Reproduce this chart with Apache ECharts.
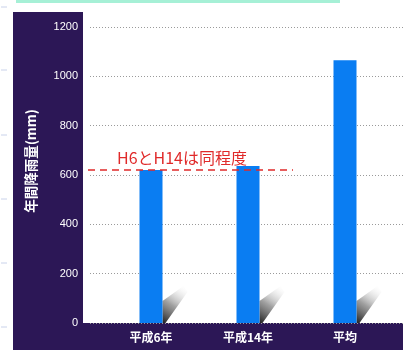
<!DOCTYPE html>
<html>
<head>
<meta charset="utf-8">
<script src="https://cdn.jsdelivr.net/npm/echarts@6/dist/echarts.min.js"></script>
<style>
  html, body { margin: 0; padding: 0; background: #ffffff; }
  #chart { width: 403px; height: 350px; }
</style>
</head>
<body>
<div id="chart"></div>
<script>
// Annual rainfall (mm)
const categories = ['平成6年', '平成14年', '平均'];
const rainfall = [620, 636, 1065];
const yTicks = { min: 0, max: 1200, interval: 200 };
const yAxisTitle = '年間降雨量(mm)';
const noteText = 'H6とH14は同程度';
const noteLevel = 620;

const PANEL = '#2c1756';
const BAR = '#0a7df2';
const RED = '#e02a2a';

const chart = echarts.init(document.getElementById('chart'), null, { renderer: 'canvas' });

// Static frame: dark side panel, bottom strip, top accent, margin ticks
const frame = [
  { type: 'rect', shape: { x: 16, y: 0, width: 324, height: 3 }, style: { fill: '#a6f0d6' }, z: 0 },
  { type: 'rect', shape: { x: 13, y: 12, width: 70, height: 338 }, style: { fill: PANEL }, z: 0 },
  { type: 'rect', shape: { x: 13, y: 323, width: 390, height: 27 }, style: { fill: PANEL }, z: 0 }
];
[7, 70, 135, 199, 263, 327].forEach(function (y) {
  frame.push({ type: 'line', shape: { x1: 1, y1: y, x2: 7, y2: y }, style: { stroke: '#c9d2ea', lineWidth: 1 }, z: 0 });
});

const option = {
  animation: false,
  backgroundColor: '#ffffff',
  textStyle: { fontFamily: '"Noto Sans CJK JP", "Liberation Sans", sans-serif' },
  grid: [
    { left: 90, right: 0, top: 27, bottom: 27 },
    { left: 102.5, right: 9.5, top: 27, bottom: 27 }
  ],
  xAxis: [
    { type: 'value', gridIndex: 0, show: false, min: 0, max: 1 },
    {
      type: 'category', gridIndex: 1, data: categories,
      axisLine: { show: false }, axisTick: { show: false },
      axisLabel: { color: '#ffffff', fontSize: 12, fontWeight: 'bold', margin: 8,
                   fontFamily: '"Noto Sans CJK JP", sans-serif' }
    }
  ],
  yAxis: [
    {
      type: 'value', gridIndex: 0, min: yTicks.min, max: yTicks.max, interval: yTicks.interval,
      axisLine: { show: false }, axisTick: { show: false },
      axisLabel: { color: '#ffffff', fontSize: 11, margin: 12,
                   fontFamily: '"Liberation Sans", Arial, sans-serif',
                   formatter: function (v) { return String(v); } },
      splitLine: { show: true, lineStyle: { color: '#9a9a9a', type: [1, 2], width: 1 } },
      name: yAxisTitle, nameLocation: 'middle', nameRotate: 90, nameGap: 52,
      nameTextStyle: { color: '#ffffff', fontSize: 13.5, fontWeight: 'bold',
                       fontFamily: '"Noto Sans CJK JP", sans-serif', padding: [0, 0, 0, 28] }
    },
    { type: 'value', gridIndex: 1, min: yTicks.min, max: yTicks.max, show: false }
  ],
  series: [
    {
      // Diagonal drop shadow behind each column
      type: 'custom', xAxisIndex: 1, yAxisIndex: 1, z: 1, silent: true,
      data: rainfall.map(function (v, i) { return [i, v]; }),
      renderItem: function (params, api) {
        const base = api.coord([api.value(0), 0]);
        const xr = base[0] + 11.5;
        const y0 = base[1];
        return {
          type: 'polygon',
          shape: { points: [[xr, y0], [xr, y0 - 22], [xr + 21, y0 - 37], [xr + 25, y0 - 31], [xr + 3, y0]] },
          style: {
            fill: new echarts.graphic.LinearGradient(0, 1, 1, 0, [
              { offset: 0, color: 'rgba(20,20,20,0.95)' },
              { offset: 0.45, color: 'rgba(120,120,120,0.7)' },
              { offset: 1, color: 'rgba(255,255,255,0)' }
            ])
          }
        };
      }
    },
    {
      type: 'bar', xAxisIndex: 1, yAxisIndex: 1, z: 2,
      data: rainfall, barWidth: 23,
      itemStyle: { color: BAR }
    }
  ],
  graphic: frame
};

chart.setOption(option);

// Reference level line with its note, placed on the value scale
const yLevel = chart.convertToPixel({ yAxisIndex: 0 }, noteLevel);
chart.setOption({
  graphic: frame.concat([
    { type: 'line', z: 10, shape: { x1: 88, y1: yLevel, x2: 293, y2: yLevel },
      style: { stroke: RED, lineWidth: 1.5, lineDash: [7, 5] } },
    { type: 'text', z: 10, x: 117, y: yLevel - 4,
      style: { text: noteText, fill: RED, font: '16px "Noto Sans CJK JP", sans-serif',
               textAlign: 'left', textVerticalAlign: 'bottom' } }
  ])
});
</script>
</body>
</html>
